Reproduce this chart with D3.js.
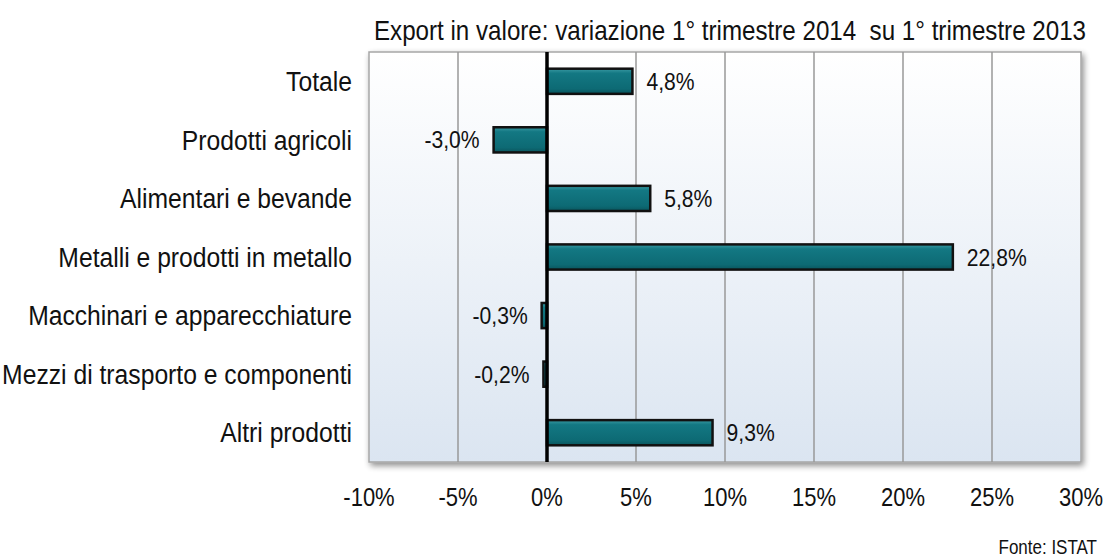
<!DOCTYPE html>
<html><head><meta charset="utf-8">
<script src="https://cdn.jsdelivr.net/npm/d3@7"></script>
<style>body{margin:0;background:#fff}svg{display:block}</style>
</head><body>
<svg id="c" width="1108" height="558"></svg>
<script>
const categories = ["Totale","Prodotti agricoli","Alimentari e bevande","Metalli e prodotti in metallo","Macchinari e apparecchiature","Mezzi di trasporto e componenti","Altri prodotti"];
const values = [4.8, -3.0, 5.8, 22.8, -0.3, -0.2, 9.3];
const valueLabels = ["4,8%","-3,0%","5,8%","22,8%","-0,3%","-0,2%","9,3%"];
const ticks = [-10,-5,0,5,10,15,20,25,30];
const tickLabels = ["-10%","-5%","0%","5%","10%","15%","20%","25%","30%"];
const title = "Export in valore: variazione 1° trimestre 2014\u00a0\u00a0su 1° trimestre 2013";
const source = "Fonte: ISTAT";

const font = "'Liberation Sans',Arial,sans-serif";
const svg = d3.select("#c");
const L=369,R=1081,T=52,B=462;
const x = d3.scaleLinear().domain([-10,30]).range([L,R]);
const y = d3.scaleBand().domain(categories).range([T,B]).paddingInner(0.57).paddingOuter(0.285);

const defs = svg.append("defs");
const bg = defs.append("linearGradient").attr("id","bg").attr("x1",0).attr("y1",0).attr("x2",0).attr("y2",1);
bg.append("stop").attr("offset","0%").attr("stop-color","#ffffff");
bg.append("stop").attr("offset","100%").attr("stop-color","#dbe5f1");
const bar = defs.append("linearGradient").attr("id","bar").attr("x1",0).attr("y1",0).attr("x2",0).attr("y2",1);
bar.append("stop").attr("offset","0%").attr("stop-color","#3a9aa3");
bar.append("stop").attr("offset","18%").attr("stop-color","#137883");
bar.append("stop").attr("offset","80%").attr("stop-color","#0d6a74");
bar.append("stop").attr("offset","100%").attr("stop-color","#0a555d");
const sh = defs.append("filter").attr("id","sh").attr("x","-5%").attr("y","-5%").attr("width","110%").attr("height","115%");
sh.append("feGaussianBlur").attr("in","SourceAlpha").attr("stdDeviation",3);
sh.append("feOffset").attr("dx",2).attr("dy",3).attr("result","b");
sh.append("feComponentTransfer").append("feFuncA").attr("type","linear").attr("slope",0.45);
const m = sh.append("feMerge"); m.append("feMergeNode"); m.append("feMergeNode").attr("in","SourceGraphic");

// plot area
svg.append("rect").attr("x",L).attr("y",T).attr("width",R-L).attr("height",B-T)
  .attr("fill","url(#bg)").attr("stroke","#a6a6a6").attr("stroke-width",1.5).attr("filter","url(#sh)");

// gridlines
svg.append("g").selectAll("line").data(ticks.filter(t=>t>-10 && t<30 && t!==0)).join("line")
  .attr("x1",d=>x(d)).attr("x2",d=>x(d)).attr("y1",T).attr("y2",B)
  .attr("stroke","#999").attr("stroke-width",1.5);

// bars
const data = categories.map((c,i)=>({c,v:values[i],l:valueLabels[i]}));
svg.append("g").selectAll("rect").data(data).join("rect")
  .attr("x",d=>Math.min(x(0),x(d.v))).attr("y",d=>y(d.c))
  .attr("width",d=>Math.abs(x(d.v)-x(0))).attr("height",y.bandwidth())
  .attr("fill","url(#bar)").attr("stroke","#111").attr("stroke-width",2.5);

// zero line
svg.append("line").attr("x1",x(0)).attr("x2",x(0)).attr("y1",T).attr("y2",B)
  .attr("stroke","#000").attr("stroke-width",3.5);

// value labels
svg.append("g").selectAll("text").data(data).join("text")
  .attr("transform",d=>`translate(${d.v>=0? x(d.v)+14 : x(d.v)-14},${y(d.c)+y.bandwidth()/2}) scale(0.88,1)`)
  .attr("dy","0.36em")
  .attr("text-anchor",d=>d.v>=0?"start":"end")
  .attr("font-family",font).attr("font-size",24).attr("fill","#111").text(d=>d.l);

// category labels
svg.append("g").selectAll("text").data(categories).join("text")
  .attr("transform",d=>`translate(352,${y(d)+y.bandwidth()/2}) scale(0.915,1)`)
  .attr("dy","0.36em")
  .attr("text-anchor","end").attr("font-family",font).attr("font-size",27).attr("fill","#111").text(d=>d);

// x tick labels
svg.append("g").selectAll("text").data(ticks).join("text")
  .attr("transform",d=>`translate(${x(d)},506) scale(0.88,1)`).attr("text-anchor","middle")
  .attr("font-family",font).attr("font-size",25).attr("fill","#111").text((d,i)=>tickLabels[i]);

svg.append("text").attr("transform","translate(730,40) scale(0.895,1)").attr("text-anchor","middle")
  .attr("font-family",font).attr("font-size",27).attr("fill","#111").text(title);
svg.append("text").attr("transform","translate(1097,554) scale(0.85,1)").attr("text-anchor","end")
  .attr("font-family",font).attr("font-size",20).attr("fill","#111").text(source);
</script>
</body></html>
